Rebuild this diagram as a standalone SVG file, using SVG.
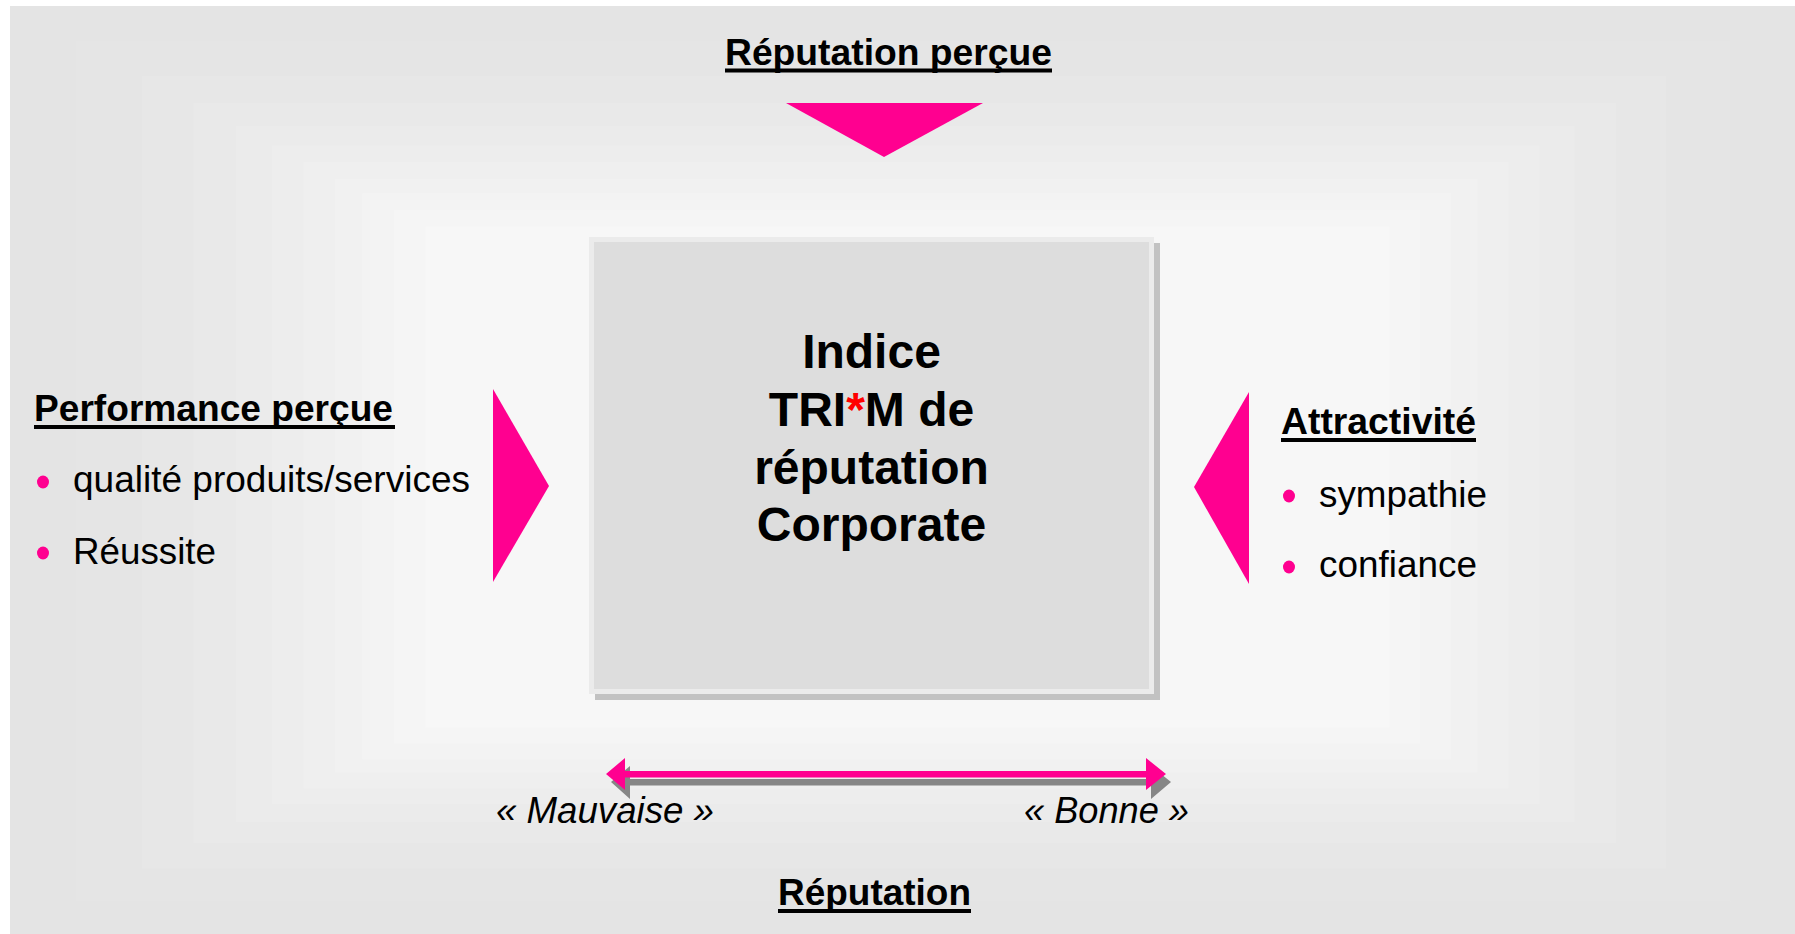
<svg xmlns="http://www.w3.org/2000/svg" width="1795" height="934" viewBox="0 0 1795 934">
<style>
.t{font-family:"Liberation Sans",Arial,sans-serif;fill:#000}
.ttl{font-size:37px;font-weight:bold}
.body{font-size:37px}
.it{font-size:36px;font-style:italic}
.box{font-size:48px;font-weight:bold}
.pink{fill:#ff0090}
.ul{fill:#000}
</style>
<rect x="0" y="0" width="1795" height="934" fill="#ffffff"/>
<g id="background">
<rect x="10" y="6" width="1785" height="928" fill="#e4e4e4"/>
<rect x="75.9" y="41" width="1654.7" height="860.3" fill="#e5e5e5"/>
<rect x="141.8" y="76.1" width="1524.4" height="792.5" fill="#e7e7e7"/>
<rect x="193.3" y="103.4" width="1422.7" height="739.7" fill="#e9e9e9"/>
<rect x="235.8" y="126" width="1338.7" height="696" fill="#ebebeb"/>
<rect x="271.9" y="145.2" width="1267.3" height="658.9" fill="#ededed"/>
<rect x="303.5" y="162" width="1204.9" height="626.4" fill="#efefef"/>
<rect x="335.1" y="178.8" width="1142.4" height="593.9" fill="#f1f1f1"/>
<rect x="362.2" y="193.2" width="1088.8" height="566.1" fill="#f3f3f3"/>
<rect x="393.8" y="210" width="1026.4" height="533.6" fill="#f5f5f5"/>
<rect x="425.4" y="226.8" width="963.9" height="501.1" fill="#f7f7f7"/>
</g>
<g id="center-box">
<rect x="595" y="243" width="565" height="457" fill="#c2c2c2"/>
<rect x="591.5" y="239.5" width="560" height="452" fill="#dddddd" stroke="#ebebeb" stroke-width="5"/>
<text class="t box" text-anchor="middle" x="871.5" y="368">Indice</text>
<text class="t box" text-anchor="middle" x="871.5" y="426">TRI<tspan fill="#ff0000">*</tspan>M de</text>
<text class="t box" text-anchor="middle" x="871.5" y="484">réputation</text>
<text class="t box" text-anchor="middle" x="871.5" y="541">Corporate</text>
</g>
<g id="top-node">
<text class="t ttl" x="725" y="65" textLength="327" lengthAdjust="spacingAndGlyphs">Réputation perçue</text>
<rect class="ul" x="725" y="68.5" width="327" height="4"/>
</g>
<g id="left-node">
<text class="t ttl" x="34" y="421" textLength="359" lengthAdjust="spacingAndGlyphs">Performance perçue</text>
<rect class="ul" x="34" y="425" width="361" height="4"/>
<ellipse class="pink" cx="43" cy="482" rx="6" ry="6.5"/>
<text class="t body" x="73" y="492" textLength="397" lengthAdjust="spacingAndGlyphs">qualité produits/services</text>
<ellipse class="pink" cx="43" cy="553" rx="6" ry="6.5"/>
<text class="t body" x="73" y="564" textLength="143" lengthAdjust="spacingAndGlyphs">Réussite</text>
</g>
<g id="right-node">
<text class="t ttl" x="1281" y="434" textLength="195" lengthAdjust="spacingAndGlyphs">Attractivité</text>
<rect class="ul" x="1281" y="438" width="195" height="4"/>
<ellipse class="pink" cx="1289" cy="496" rx="6" ry="6.5"/>
<text class="t body" x="1319" y="507" textLength="168" lengthAdjust="spacingAndGlyphs">sympathie</text>
<ellipse class="pink" cx="1289" cy="567" rx="6" ry="6.5"/>
<text class="t body" x="1319" y="577" textLength="158" lengthAdjust="spacingAndGlyphs">confiance</text>
</g>
<g id="bottom-node">
<text class="t it" x="496" y="823" textLength="218" lengthAdjust="spacingAndGlyphs">« Mauvaise »</text>
<text class="t it" x="1024" y="823" textLength="165" lengthAdjust="spacingAndGlyphs">« Bonne »</text>
<text class="t ttl" x="778" y="905" textLength="193" lengthAdjust="spacingAndGlyphs">Réputation</text>
<rect class="ul" x="778" y="909" width="193" height="4"/>
</g>
<g id="connectors">
<polygon class="pink" points="786,103 983,103 884,157"/>
<polygon class="pink" points="493,389 549,486 493,582"/>
<polygon class="pink" points="1249,392 1194,487 1249,584"/>
<g id="scale-arrow">
<polygon fill="#868686" points="611,782 630,766 630,779 1151,779 1151,766 1171,782 1151,799 1151,785.5 630,785.5 630,799"/>
<polygon class="pink" points="606,774 625,758 625,771 1146,771 1146,758 1166,774 1146,790 1146,777.5 625,777.5 625,790"/>
</g>
</g>
</svg>
